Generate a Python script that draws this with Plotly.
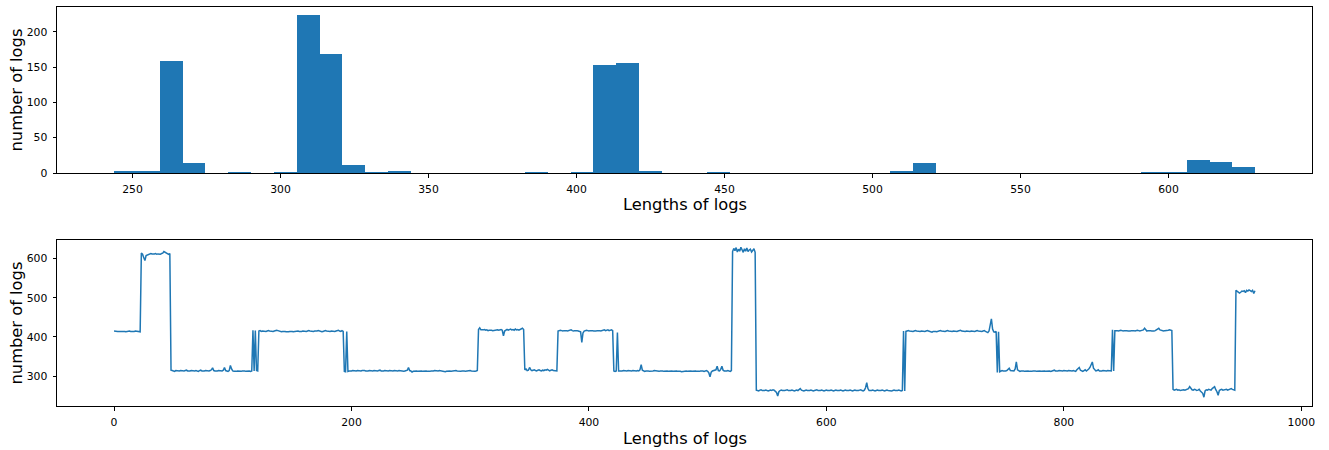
import plotly.graph_objects as go

# Histogram of log lengths: 50 equal-width bins
bin_start = 243.8
bin_size = 7.71
bin_counts = [
    3, 2, 158, 14, 0, 1, 0, 1, 224, 169,
    12, 1, 2, 0, 0, 0, 0, 0, 1, 0,
    1, 153, 156, 3, 0, 0, 1, 0, 0, 0,
    0, 0, 0, 0, 3, 14, 0, 0, 0, 0,
    0, 0, 0, 0, 0, 1, 1, 19, 15, 8,
]

# Length of each log, in order of appearance
log_lengths = [
    # 0-22
    415, 414, 413, 414, 414, 415, 414, 414, 415, 414, 413, 414, 415, 415, 414, 414, 413, 414, 415, 414, 413, 414, 413,
    # 23-47
    614, 611, 603, 595, 608, 609, 612, 611, 613, 612, 611, 612, 613, 611, 612, 612, 611, 613, 614, 618, 616, 613, 612, 611, 613,
    # 48-116
    315, 314, 313, 312, 314, 313, 312, 313, 314, 313, 312, 313, 314, 315, 313, 312, 313, 314, 313, 312,
    313, 314, 313, 312, 314, 315, 313, 312, 313, 314, 313, 312, 313, 314, 316, 321, 314, 313, 312, 313,
    314, 313, 312, 313, 315, 322, 314, 313, 312, 314, 327, 318, 313, 312, 311, 312, 313, 312, 311, 312,
    313, 314, 313, 312, 313, 314, 313, 312, 313,
    # 117-121
    417, 313, 416, 314, 313,
    # 122-193
    415, 416, 414, 415, 414, 413, 414, 415, 416, 415, 414, 413, 414, 415, 416, 417, 416, 415, 414, 413,
    414, 415, 414, 413, 412, 413, 414, 415, 414, 413, 414, 415, 416, 415, 414, 413, 414, 415, 414, 413,
    414, 415, 416, 415, 414, 413, 414, 415, 414, 415, 416, 415, 414, 413, 414, 415, 416, 415, 414, 413,
    414, 415, 414, 413, 414, 415, 416, 417, 415, 414, 416, 414,
    # 194-196
    312, 311, 414,
    # 197-306
    312, 313, 312, 313, 314, 313, 312, 313, 314, 313, 312, 313, 314, 315, 314, 313, 312, 313, 314, 313,
    312, 313, 314, 313, 312, 313, 314, 315, 313, 312, 313, 314, 313, 312, 313, 314, 313, 312, 313, 314,
    313, 312, 313, 314, 313, 312, 313, 312, 313, 314, 315, 322, 314, 313, 310, 312, 313, 314, 313, 312,
    313, 314, 313, 312, 313, 314, 313, 312, 311, 312, 313, 312, 313, 314, 313, 312, 313, 314, 313, 312,
    313, 312, 311, 312, 313, 314, 313, 312, 313, 312, 313, 314, 313, 312, 311, 312, 313, 314, 313, 312,
    313, 312, 313, 314, 313, 312, 313, 312, 313, 314,
    # 307-345
    419, 423, 418, 417, 418, 419, 417, 418, 416, 417, 418, 417, 416, 417, 418, 419, 418, 417, 418, 419,
    417, 403, 415, 418, 419, 417, 418, 420, 418, 419, 417, 420, 418, 419, 417, 418, 421, 422, 419,
    # 346-373
    316, 318, 314, 315, 322, 316, 314, 315, 316, 314, 313, 315, 316, 314, 313, 315, 314, 316, 315, 317,
    314, 313, 315, 316, 314, 313, 312, 313,
    # 374-420
    415, 416, 417, 416, 415, 416, 417, 416, 415, 416, 417, 418, 416, 415, 416, 417, 416, 415, 414, 413,
    386, 410, 415, 416, 417, 416, 415, 416, 417, 416, 415, 414, 415, 416, 417, 416, 415, 416, 417, 418,
    416, 417, 418, 416, 417, 418, 416,
    # 421-425
    313, 312, 313, 411, 313,
    # 426-520
    313, 312, 313, 314, 313, 312, 313, 314, 313, 312, 313, 314, 313, 312, 313, 314, 313, 316, 329, 315,
    313, 312, 313, 314, 313, 312, 313, 312, 313, 314, 313, 312, 311, 312, 313, 314, 313, 312, 313, 314,
    313, 312, 313, 314, 313, 312, 313, 314, 313, 312, 313, 312, 311, 312, 313, 314, 313, 312, 313, 314,
    313, 312, 313, 314, 313, 312, 311, 312, 313, 314, 313, 312, 313, 314, 312, 308, 298, 310, 313, 314,
    313, 316, 325, 314, 313, 317, 325, 315, 313, 312, 313, 314, 313, 312, 314,
    # 521-540
    618, 626, 620, 628, 617, 624, 619, 629, 621, 616, 625, 619, 627, 618, 622, 624, 617, 620, 625, 616,
    # 541-664
    264, 263, 262, 264, 265, 263, 262, 263, 264, 263, 262, 263, 264, 263, 265, 264, 262, 258, 249, 260,
    263, 264, 263, 262, 263, 264, 265, 263, 262, 263, 264, 263, 262, 263, 264, 263, 265, 268, 264, 263,
    262, 263, 264, 263, 262, 263, 264, 263, 262, 263, 264, 265, 263, 262, 263, 264, 263, 262, 263, 264,
    263, 262, 263, 264, 263, 262, 263, 264, 263, 262, 263, 264, 263, 262, 263, 264, 263, 262, 263, 264,
    263, 262, 263, 264, 263, 262, 263, 264, 265, 263, 262, 264, 270, 283, 268, 263, 262, 263, 264, 263,
    262, 263, 264, 263, 262, 263, 264, 263, 262, 263, 264, 263, 262, 261, 262, 263, 264, 263, 262, 263,
    264, 263, 262, 263,
    # 665-666
    415, 262,
    # 667-743
    414, 415, 416, 415, 414, 413, 414, 415, 416, 415, 414, 413, 414, 415, 414, 413, 414, 415, 416, 415,
    414, 413, 412, 414, 415, 414, 413, 414, 415, 416, 415, 414, 413, 414, 415, 416, 415, 414, 413, 414,
    415, 414, 413, 414, 415, 416, 417, 415, 414, 413, 414, 415, 414, 413, 414, 415, 414, 413, 414, 415,
    416, 415, 414, 413, 414, 415, 416, 414, 412, 411, 415, 428, 446, 420, 413, 412, 414,
    # 744-745
    309, 413,
    # 746-840
    311, 313, 314, 313, 312, 313, 314, 316, 320, 314, 313, 312, 313, 318, 336, 316, 313, 312, 313, 314,
    313, 312, 313, 314, 313, 312, 311, 312, 313, 314, 313, 312, 313, 314, 313, 312, 313, 314, 313, 312,
    313, 314, 313, 312, 313, 314, 315, 313, 312, 313, 314, 313, 312, 313, 314, 313, 312, 313, 314, 313,
    312, 313, 314, 313, 312, 316, 318, 322, 315, 313, 312, 314, 316, 313, 315, 318, 322, 329, 336, 320,
    315, 313, 314, 316, 313, 312, 313, 314, 313, 312, 313, 314, 313, 312, 313,
    # 841-842
    418, 313,
    # 843-891
    416, 417, 416, 415, 416, 417, 416, 415, 416, 417, 416, 415, 414, 415, 416, 417, 416, 415, 416, 417,
    416, 415, 416, 417, 418, 422, 417, 415, 416, 417, 416, 415, 414, 415, 416, 418, 419, 422, 418, 417,
    416, 415, 416, 417, 416, 417, 418, 417, 416,
    # 892-944
    266, 264, 265, 266, 264, 265, 263, 264, 266, 265, 264, 265, 266, 268, 273, 267, 265, 264, 266, 265,
    263, 264, 266, 262, 260, 256, 246, 262, 265, 264, 266, 265, 264, 268, 270, 273, 265, 260, 251, 263,
    265, 266, 264, 265, 267, 266, 264, 265, 266, 268, 266, 265, 264,
    # 945-961
    519, 516, 515, 512, 514, 517, 516, 518, 513, 519, 517, 520, 518, 516, 519, 511, 518,
]

BLUE = "#1f77b4"
FONT = "DejaVu Sans"

bin_lefts = [bin_start + i * bin_size for i in range(len(bin_counts))]

fig = go.Figure()

fig.add_trace(go.Bar(
    x=bin_lefts, y=bin_counts, width=bin_size, offset=0,
    marker=dict(color=BLUE, line=dict(width=0)),
    xaxis="x", yaxis="y", showlegend=False,
))

fig.add_trace(go.Scatter(
    x=list(range(len(log_lengths))), y=log_lengths, mode="lines",
    line=dict(color=BLUE, width=1.5),
    xaxis="x2", yaxis="y2", showlegend=False,
))

axis_common = dict(
    showgrid=False, zeroline=False,
    showline=True, mirror=True, linecolor="#000000", linewidth=1,
    ticks="outside", ticklen=3.5, tickwidth=1, tickcolor="#000000",
    tickfont=dict(family=FONT, size=10.8, color="#000000"),
    ticklabelstandoff=3,
)

# plot-area rows (pixels from top): histogram 7..173, line 240..406
H_TOTAL = 450
M_TOP, M_BOT = 7, 44
PLOT_H = H_TOTAL - M_TOP - M_BOT
def frac(px):
    return (H_TOTAL - M_BOT - px) / PLOT_H

fig.update_layout(
    width=1329, height=450,
    margin=dict(l=57, r=17, t=M_TOP, b=M_BOT),
    paper_bgcolor="white", plot_bgcolor="white",
    bargap=0,
    font=dict(family=FONT, color="#000000"),
    xaxis=dict(axis_common, domain=[0, 1], anchor="y",
               range=[224.5, 648.5], tickvals=[250, 300, 350, 400, 450, 500, 550, 600]),
    yaxis=dict(axis_common, domain=[frac(173), frac(7)], anchor="x",
               range=[0, 235.2], tickvals=[0, 50, 100, 150, 200]),
    xaxis2=dict(axis_common, domain=[0, 1], anchor="y2",
                range=[-48.05, 1009.05], tickvals=[0, 200, 400, 600, 800, 1000]),
    yaxis2=dict(axis_common, domain=[frac(406), frac(240)], anchor="x2",
                range=[223.5, 647.5], tickvals=[300, 400, 500, 600]),
)

label_font = dict(family=FONT, size=16.3, color="#000000")
for text, x, y, angle in [
    ("Lengths of logs", 0.5, frac(204), 0),
    ("Lengths of logs", 0.5, frac(438), 0),
    ("number of logs", (15.5 - 57) / 1255, frac(90), -90),
    ("number of logs", (15.5 - 57) / 1255, frac(323), -90),
]:
    fig.add_annotation(
        text=text, x=x, y=y, xref="paper", yref="paper",
        xanchor="center", yanchor="middle", textangle=angle,
        showarrow=False, font=label_font,
    )

fig.write_html("out.html")
